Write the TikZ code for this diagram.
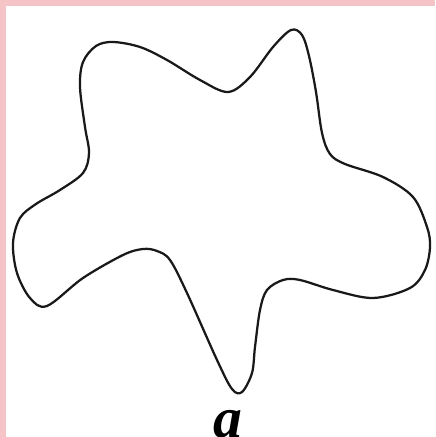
\documentclass[tikz,border=0pt]{standalone}
\usepackage{fontspec}
\setmainfont{Liberation Serif}
\definecolor{frame}{RGB}{245,196,199}
\tikzset{outline/.style={line width=3.2pt,black!90,line join=round}}

\begin{document}
\begin{tikzpicture}[x=0.05cm,y=-0.05cm]
    \useasboundingbox (0,0) rectangle (435,437);
    \clip (0,0) rectangle (435,437);
    \fill[white] (0,0) rectangle (435,437);
    % pink frame, top and left only
    \fill[frame] (0,0) rectangle (435,6);
    \fill[frame] (0,0) rectangle (6,437);
    % the outline
    \draw[outline] plot[smooth cycle,tension=0.55] coordinates {
      (113,42) (140,47) (167,60) (200,80) (228,92) (250,77) (273,47)
      (291,30) (302,35) (309,56) (316,92) (322,133) (330,154) (345,164)
      (383,177) (413,197) (427,227) (430,247) (425,270) (410,288)
      (373,298) (333,290) (300,280) (283,280) (267,290) (260,310)
      (255,347) (252,373) (242,392) (232,389) (217,360) (187,293)
      (170,260) (157,251) (143,249) (123,255) (83,278) (47,306)
      (30,298) (17,273) (13,243) (20,218) (36,204) (60,190) (83,173)
      (89,153) (85,127) (80,87) (83,62) (96,46)};
    \node[anchor=north,font=\fontsize{82}{84}\selectfont\bfseries\itshape,
      inner sep=0pt] (lbl) at (228,410) {a};
  \end{tikzpicture}
\end{document}
